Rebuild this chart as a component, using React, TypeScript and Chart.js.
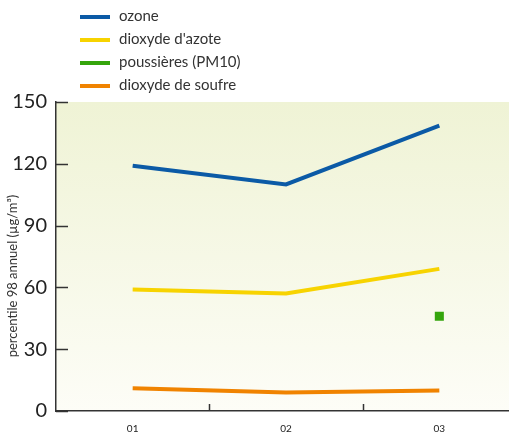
import React, { useEffect, useRef } from "react";
import { Chart, registerables } from "chart.js";

Chart.register(...registerables);

const categories = ["01", "02", "03"];
const ozone = [119, 110, 138.5];
const dioxydeAzote = [59, 57, 69];
const poussieres = [null, null, 46];
const dioxydeSoufre = [11, 9, 10];
const seriesNames = ["ozone", "dioxyde d'azote", "poussières (PM10)", "dioxyde de soufre"];
const seriesColors = ["#0b5aa6", "#f7d300", "#35a50c", "#f08300"];
const yTitle = "percentile 98 annuel (µg/m³)";

const FONT = "Lato, 'Open Sans', sans-serif";

const bgPlugin = {
  id: "bg",
  beforeDraw(chart: any) {
    const { ctx, chartArea } = chart;
    const g = ctx.createLinearGradient(0, chartArea.top, 0, chartArea.bottom);
    g.addColorStop(0, "#eff3d5");
    g.addColorStop(1, "#fdfdf7");
    ctx.save();
    ctx.fillStyle = g;
    ctx.fillRect(chartArea.left, chartArea.top, chartArea.right - chartArea.left, chartArea.bottom - chartArea.top);
    ctx.restore();
  },
};

const ticksPlugin = {
  id: "innerTicks",
  afterDraw(chart: any) {
    const { ctx, chartArea } = chart;
    const y = chart.scales.y;
    const x = chart.scales.x;
    ctx.save();
    ctx.strokeStyle = "#333";
    ctx.lineWidth = 1.5;
    y.ticks.forEach((t: any) => {
      const py = Math.round(y.getPixelForValue(t.value)) + 0.5;
      ctx.beginPath();
      ctx.moveTo(chartArea.left, py);
      ctx.lineTo(chartArea.left + 12, py);
      ctx.stroke();
    });
    for (let i = 0; i < categories.length - 1; i++) {
      const px = Math.round((x.getPixelForValue(i) + x.getPixelForValue(i + 1)) / 2) + 0.5;
      ctx.beginPath();
      ctx.moveTo(px, chartArea.bottom);
      ctx.lineTo(px, chartArea.bottom - 7);
      ctx.stroke();
    }
    // rotated y-axis title
    ctx.translate(13, 276);
    ctx.rotate(-Math.PI / 2);
    ctx.font = `13px ${FONT}`;
    ctx.fillStyle = "#333";
    ctx.textAlign = "center";
    ctx.textBaseline = "middle";
    ctx.fillText(yTitle, 0, 0);
    ctx.restore();
  },
};

const legendPlugin = {
  id: "customLegend",
  afterDraw(chart: any) {
    const { ctx } = chart;
    ctx.save();
    ctx.font = `15px ${FONT}`;
    ctx.textBaseline = "middle";
    ctx.fillStyle = "#333";
    chart.data.datasets.forEach((ds: any, i: number) => {
      const cy = 16 + i * 23;
      ctx.strokeStyle = ds.legendColor;
      ctx.lineWidth = 4;
      ctx.beginPath();
      ctx.moveTo(80, cy + 1);
      ctx.lineTo(110, cy + 1);
      ctx.stroke();
      ctx.fillText(ds.label, 119, cy);
    });
    ctx.restore();
  },
};

export default function App() {
  const ref = useRef<HTMLCanvasElement>(null);
  useEffect(() => {
    document.body.style.margin = "0";
    document.body.style.overflow = "hidden";
    const chart = new Chart(ref.current!, {
      type: "line",
      data: {
        labels: categories,
        datasets: [
          { label: seriesNames[0], data: ozone, borderColor: seriesColors[0], legendColor: seriesColors[0], borderWidth: 4, pointRadius: 0, tension: 0 } as any,
          { label: seriesNames[1], data: dioxydeAzote, borderColor: seriesColors[1], legendColor: seriesColors[1], borderWidth: 4, pointRadius: 0, tension: 0 } as any,
          { label: seriesNames[2], data: poussieres, borderColor: seriesColors[2], backgroundColor: seriesColors[2], legendColor: seriesColors[2], showLine: false, pointStyle: "rect", pointRadius: 6.4, pointBorderWidth: 0 } as any,
          { label: seriesNames[3], data: dioxydeSoufre, borderColor: seriesColors[3], legendColor: seriesColors[3], borderWidth: 4, pointRadius: 0, tension: 0 } as any,
        ],
      },
      options: {
        animation: false,
        responsive: false,
        maintainAspectRatio: false,
        layout: { padding: { top: 102, right: 14, left: 0, bottom: 0 } },
        plugins: { legend: { display: false }, tooltip: { enabled: false } },
        scales: {
          x: {
            offset: true,
            grid: { display: false, drawTicks: false },
            border: { display: true, color: "#333", width: 1.5 },
            ticks: { color: "#222", font: { family: FONT, size: 10 }, padding: 12 },
            afterFit(scale: any) { scale.height = 24; },
          },
          y: {
            min: 0,
            max: 150,
            grid: { display: false, drawTicks: false },
            border: { display: true, color: "#333", width: 1.5 },
            ticks: { stepSize: 30, color: "#222", font: { family: FONT, size: 20 }, padding: 9 },
            afterFit(scale: any) { scale.width = 56; },
          },
        },
      },
      plugins: [bgPlugin, ticksPlugin, legendPlugin],
    });
    return () => chart.destroy();
  }, []);
  return (
    <div style={{ width: 509, height: 435, overflow: "hidden", position: "relative" }}>
      <canvas ref={ref} width={530} height={435} style={{ position: "absolute", left: 0, top: 0, width: 530, height: 435 }} />
    </div>
  );
}
